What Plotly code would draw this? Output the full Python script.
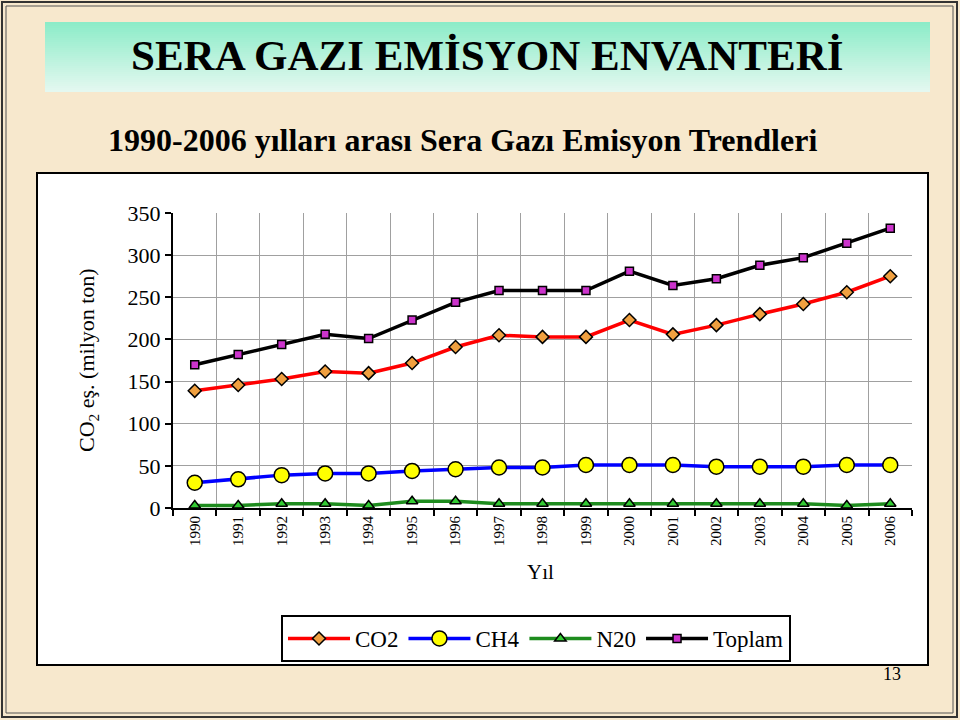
import plotly.graph_objects as go

years = [str(y) for y in range(1990, 2007)]
co2 = [139, 146, 153, 162, 160, 172, 191, 205, 203, 203, 223, 206, 217, 230, 242, 256, 275]
ch4 = [30, 34, 39, 41, 41, 44, 46, 48, 48, 51, 51, 51, 49, 49, 49, 51, 51]
n2o = [3, 3, 5, 5, 3, 8, 8, 5, 5, 5, 5, 5, 5, 5, 5, 3, 5]
toplam = [170, 182, 194, 206, 201, 223, 244, 258, 258, 258, 281, 264, 272, 288, 297, 314, 332]
series_names = ["CO2", "CH4", "N20", "Toplam"]
y_ticks = [0, 50, 100, 150, 200, 250, 300, 350]

FONT = "Liberation Serif"
W, H = 960, 720
PL, PR, PT, PB = 173, 912, 213, 508


def px(x):
    return (x - PL) / (PR - PL)


def py(y):
    return (PB - y) / (PB - PT)


fig = go.Figure()

fig.add_trace(go.Scatter(
    x=years, y=co2, name=series_names[0], mode="lines+markers",
    line=dict(color="#FF0000", width=3.5),
    marker=dict(symbol="diamond", size=10, color="#F0A040",
                line=dict(color="black", width=1.5))))
fig.add_trace(go.Scatter(
    x=years, y=ch4, name=series_names[1], mode="lines+markers",
    line=dict(color="#0000FF", width=3.5),
    marker=dict(symbol="circle", size=15, color="#FFFF00",
                line=dict(color="black", width=1.5))))
fig.add_trace(go.Scatter(
    x=years, y=n2o, name=series_names[2], mode="lines+markers",
    line=dict(color="#1E8C1E", width=3.5),
    marker=dict(symbol="triangle-up", size=10, color="#33CC33",
                line=dict(color="black", width=1.5))))
fig.add_trace(go.Scatter(
    x=years, y=toplam, name=series_names[3], mode="lines+markers",
    line=dict(color="#000000", width=3.5),
    marker=dict(symbol="square", size=8, color="#CC33CC",
                line=dict(color="black", width=1.5))))

shapes = []
# outer frame
shapes.append(dict(type="rect", xref="paper", yref="paper",
                   x0=px(2), x1=px(957), y0=py(2), y1=py(717),
                   line=dict(color="#333333", width=2), layer="below"))
shapes.append(dict(type="rect", xref="paper", yref="paper",
                   x0=px(6), x1=px(953), y0=py(6), y1=py(713),
                   line=dict(color="#555555", width=1), layer="below"))
# banner gradient
top_c = (0x8C, 0xEC, 0xC8)
bot_c = (0xE4, 0xF8, 0xF0)
b_top, b_bot = 22, 92
n = 35
for i in range(n):
    t = i / (n - 1)
    c = tuple(int(round(top_c[k] + (bot_c[k] - top_c[k]) * t)) for k in range(3))
    y0 = b_top + (b_bot - b_top) * i / n
    y1 = b_top + (b_bot - b_top) * (i + 1) / n + 0.5
    shapes.append(dict(type="rect", xref="paper", yref="paper",
                       x0=px(45), x1=px(930), y0=py(y0), y1=py(min(y1, b_bot)),
                       fillcolor="rgb(%d,%d,%d)" % c, line=dict(width=0),
                       layer="below"))
# white chart box
shapes.append(dict(type="rect", xref="paper", yref="paper",
                   x0=px(37), x1=px(928), y0=py(173), y1=py(665),
                   fillcolor="white", line=dict(color="black", width=2),
                   layer="below"))

annotations = [
    dict(text="<b>SERA GAZI EMİSYON ENVANTERİ</b>", xref="paper", yref="paper",
         x=px(487), y=py(55), showarrow=False,
         font=dict(family=FONT, size=43, color="black"),
         xanchor="center", yanchor="middle"),
    dict(text="<b>1990-2006 yılları arası Sera Gazı Emisyon Trendleri</b>",
         xref="paper", yref="paper", x=px(462), y=py(140), showarrow=False,
         font=dict(family=FONT, size=32, color="black"),
         xanchor="center", yanchor="middle"),
    dict(text="CO<sub>2</sub> eş. (milyon ton)", xref="paper", yref="paper",
         x=px(88), y=py(360), showarrow=False, textangle=-90,
         font=dict(family=FONT, size=22, color="black"),
         xanchor="center", yanchor="middle"),
    dict(text="Yıl", xref="paper", yref="paper",
         x=px(540), y=py(572), showarrow=False,
         font=dict(family=FONT, size=21, color="black"),
         xanchor="center", yanchor="middle"),
    dict(text="13", xref="paper", yref="paper",
         x=px(892), y=py(674), showarrow=False,
         font=dict(family=FONT, size=18, color="black"),
         xanchor="center", yanchor="middle"),
]

fig.update_layout(
    width=W, height=H,
    margin=dict(l=PL, r=W - PR, t=PT, b=H - PB, pad=0),
    paper_bgcolor="#F7E8CD",
    plot_bgcolor="white",
    font=dict(family=FONT, color="black"),
    shapes=shapes,
    annotations=annotations,
    legend=dict(orientation="h", x=px(281), y=py(615), xanchor="left",
                yanchor="top", bgcolor="white", bordercolor="black",
                borderwidth=2, font=dict(family=FONT, size=23, color="black"),
                itemwidth=62, tracegroupgap=0),
    xaxis=dict(type="category", range=[-0.5, 16.5], tickson="boundaries",
               showgrid=True, gridcolor="#A0A0A0", gridwidth=1,
               ticks="outside", ticklen=6, tickcolor="black", tickwidth=2,
               tickangle=-90, tickfont=dict(family=FONT, size=15, color="black"),
               showline=True, linecolor="black", linewidth=2, zeroline=False),
    yaxis=dict(range=[0, 350], tickvals=y_ticks, showgrid=True,
               gridcolor="#A0A0A0", gridwidth=1, ticks="outside", ticklen=6,
               tickcolor="black", tickwidth=2,
               tickfont=dict(family=FONT, size=22, color="black"),
               showline=True, linecolor="black", linewidth=2, zeroline=False),
)

fig.write_html(
    "out.html",
    config={"displayModeBar": False},
    post_script="document.body.style.margin='0';document.body.style.overflow='hidden';",
)
